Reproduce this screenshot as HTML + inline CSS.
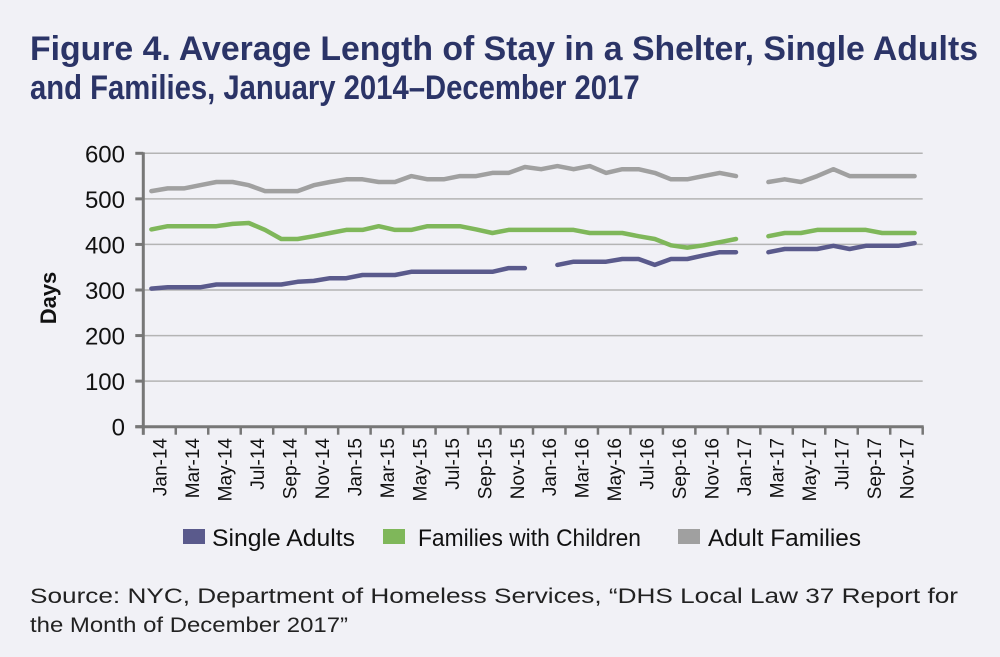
<!DOCTYPE html>
<html><head><meta charset="utf-8"><style>
html,body{margin:0;padding:0;background:#f1f1f6;}
svg{display:block;font-family:"Liberation Sans",Arial,sans-serif;}
</style></head><body>
<svg width="1000" height="657" viewBox="0 0 1000 657" xmlns="http://www.w3.org/2000/svg">
<rect width="1000" height="657" fill="#f1f1f6"/>
<g transform="scale(0.8,1)">
<text x="37.5" y="60" font-size="34" font-weight="bold" fill="#2b3467" textLength="1185" lengthAdjust="spacingAndGlyphs">Figure 4. Average Length of Stay in a Shelter, Single Adults</text>
<text x="37.5" y="99" font-size="34" font-weight="bold" fill="#2b3467" textLength="762" lengthAdjust="spacingAndGlyphs">and Families, January 2014–December 2017</text>
</g>
<g id="plot"></g>
<text x="56" y="298" font-size="22" font-weight="bold" fill="#111" transform="rotate(-90 56 298)" text-anchor="middle">Days</text>
<rect x="183" y="529" width="22" height="15" fill="#5a5a8c"/>
<text x="212" y="546" font-size="24" fill="#111" textLength="143" lengthAdjust="spacingAndGlyphs">Single Adults</text>
<rect x="383" y="529" width="22" height="15" fill="#7fb75a"/>
<text x="418" y="546" font-size="24" fill="#111" textLength="223" lengthAdjust="spacingAndGlyphs">Families with Children</text>
<rect x="678" y="529" width="22" height="15" fill="#a0a0a0"/>
<text x="708" y="546" font-size="24" fill="#111" textLength="153" lengthAdjust="spacingAndGlyphs">Adult Families</text>
<text x="30" y="603" font-size="21" fill="#222" textLength="928" lengthAdjust="spacingAndGlyphs">Source: NYC, Department of Homeless Services, “DHS Local Law 37 Report for</text>
<text x="30" y="632" font-size="21" fill="#222" textLength="318" lengthAdjust="spacingAndGlyphs">the Month of December 2017”</text>
</svg>
<script>
(function(){
var g=document.getElementById('plot'),ns='http://www.w3.org/2000/svg';
function el(t,a,txt){var e=document.createElementNS(ns,t);for(var k in a)e.setAttribute(k,a[k]);if(txt!=null)e.textContent=txt;g.appendChild(e);return e;}
var x0=143.3,x1=922.7,y0=426.7,y6=153.3,cw=(x1-x0)/48;
function Y(v){return y0-(y0-y6)*v/600;}
for(var i=1;i<=6;i++){el('line',{x1:x0,x2:x1,y1:Y(i*100),y2:Y(i*100),stroke:'#b4b4b4','stroke-width':1.5});}
for(var i=0;i<=6;i++){el('line',{x1:x0-8,x2:x0,y1:Y(i*100),y2:Y(i*100),stroke:'#777','stroke-width':3});
el('text',{x:125,y:Y(i*100)+9,'font-size':24,'text-anchor':'end',fill:'#111'},String(i*100));}
el('line',{x1:x0,x2:x0,y1:Y(600)-1,y2:y0+8,stroke:'#777','stroke-width':3});
el('line',{x1:x0-8,x2:x1+1,y1:y0,y2:y0,stroke:'#777','stroke-width':3});
var mn=['Jan','Mar','May','Jul','Sep','Nov'];
for(var k=0;k<=24;k++){var x=x0+k*2*cw;el('line',{x1:x,x2:x,y1:y0,y2:y0+8,stroke:'#777','stroke-width':2.5});
if(k<24){var lx=x+cw+7;var lab=mn[k%6]+'-'+(14+Math.floor(k/6));el('text',{x:lx,y:438,'font-size':19,'text-anchor':'end',fill:'#111',transform:'rotate(-90 '+lx+' 438)'},lab);}}
var S=[303,306,306,306,312,312,312,312,312,318,320,326,326,333,333,333,340,340,340,340,340,340,348,348,null,355,362,362,362,368,368,355,368,368,376,383,383,null,383,390,390,390,397,390,397,397,397,403];
var F=[433,440,440,440,440,445,447,432,412,412,418,425,432,432,440,432,432,440,440,440,433,425,432,432,432,432,432,425,425,425,418,412,398,393,398,405,412,null,418,425,425,432,432,432,432,425,425,425];
var A=[517,523,523,530,537,537,530,517,517,517,530,537,543,543,537,537,550,543,543,550,550,557,557,570,565,572,565,572,557,565,565,557,543,543,550,557,550,null,537,543,537,550,565,550,550,550,550,550];
function draw(d,c){var p='',pen=false;for(var i=0;i<48;i++){if(d[i]==null){pen=false;continue;}var x=x0+cw*(i+0.5),y=Y(d[i]);p+=(pen?'L':'M')+x.toFixed(1)+' '+y.toFixed(1);pen=true;}
el('path',{d:p,fill:'none',stroke:c,'stroke-width':4.5,'stroke-linejoin':'round','stroke-linecap':'round'});}
draw(A,'#a0a0a0');draw(F,'#7fb75a');draw(S,'#5a5a8c');
})();
</script>
</body></html>
